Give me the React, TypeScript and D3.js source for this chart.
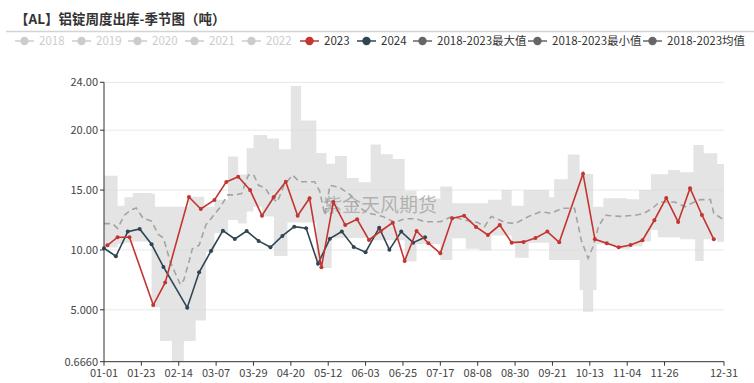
import React from 'react';
import * as d3 from 'd3';

// ---------- data ----------
const dates2023 = ['01-03','01-09','01-16','01-30','02-06','02-20','02-27','03-06','03-13','03-20','03-27','04-03','04-10','04-17','04-24','05-01','05-08','05-15','05-22','05-29','06-05','06-12','06-19','06-26','07-03','07-10','07-17','07-24','07-31','08-07','08-14','08-21','08-28','09-04','09-11','09-18','09-25','10-09','10-16','10-23','10-30','11-06','11-13','11-20','11-27','12-04','12-11','12-18','12-25'];
const values2023 = [10.39,11.06,11.06,5.40,7.27,14.42,13.42,14.17,15.68,16.12,15.0,12.86,14.42,15.70,12.86,14.32,8.55,14.01,12.08,12.56,10.83,11.58,12.28,9.08,11.58,10.56,9.72,12.64,12.86,11.92,11.25,12.08,10.61,10.67,11.0,11.53,10.64,16.37,10.89,10.56,10.22,10.41,10.81,12.48,14.34,12.34,15.15,12.92,10.89];

const dates2024 = ['01-01','01-08','01-15','01-22','01-29','02-05','02-19','02-26','03-04','03-11','03-18','03-25','04-01','04-08','04-15','04-22','04-29','05-06','05-13','05-20','05-27','06-03','06-11','06-17','06-24','07-01','07-08'];
const values2024 = [10.14,9.47,11.53,11.75,10.47,8.58,5.18,8.13,9.91,11.61,10.92,11.58,10.75,10.22,11.17,11.94,11.81,8.85,10.94,11.53,10.25,9.81,11.86,10.02,11.53,10.61,11.06];

const bandDates = ['01-01','01-09','01-13','01-18','01-29','01-31','02-03','02-10','02-17','02-20','02-24','02-29','03-01','03-06','03-14','03-20','03-25','03-29','04-03','04-06','04-10','04-13','04-18','04-20','04-26','05-05','05-08','05-11','05-14','05-16','05-23','05-30','06-06','06-12','06-19','06-26','07-03','07-17','07-24','08-01','08-09','08-14','08-16','08-22','08-28','08-30','09-04','09-07','09-19','09-22','09-27','09-30','10-07','10-09','10-15','10-17','10-21','10-23','10-30','11-04','11-06','11-11','11-13','11-18','11-22','11-28','12-05','12-13','12-14','12-19','12-27','12-31'];
const bandMax = [16.2,13.7,14.4,14.75,14.7,13.6,13.6,13.6,13.6,14.45,14.45,13.6,13.6,14.2,17.8,16.3,18.5,19.6,19.6,19.3,19.3,18.4,18.4,23.7,20.8,18.1,18.1,17.2,17.2,17.85,16.0,15.65,18.8,18.0,17.6,14.95,14.3,15.3,13.9,13.9,13.9,14.2,14.2,15.0,13.7,13.7,15.0,15.0,14.4,15.9,15.9,17.96,16.35,16.35,13.61,13.61,14.32,14.32,14.32,14.23,14.23,15.0,15.0,16.32,16.32,16.68,16.49,18.77,18.77,18.08,17.18,17.18];
const bandMin = [10.2,10.5,10.6,10.7,5.2,5.2,2.4,0.666,2.4,2.4,4.1,4.1,9.85,11.4,12.5,12.2,13.2,13.6,12.8,12.8,9.5,9.5,12.3,12.3,12.3,9.16,8.5,8.5,11.0,11.0,11.0,11.0,10.8,10.8,10.8,9.05,10.5,9.16,10.97,10.1,9.95,9.95,11.2,11.2,10.6,9.35,9.35,10.6,9.16,9.16,9.16,9.16,6.66,4.84,6.66,10.5,10.5,10.4,10.1,10.1,10.3,10.3,10.7,11.67,11.06,11.06,10.9,10.9,9.08,10.89,10.69,10.69];

const meanDates = ['01-01','01-06','01-09','01-13','01-17','01-20','01-24','01-29','02-02','02-05','02-09','02-15','02-17','02-20','02-22','02-26','03-01','03-05','03-09','03-14','03-18','03-22','03-26','03-29','04-01','04-05','04-08','04-12','04-16','04-21','04-25','05-04','05-07','05-10','05-13','05-19','05-25','05-30','06-04','06-13','06-20','06-26','07-03','07-08','07-17','07-24','07-31','08-08','08-12','08-16','08-24','08-30','09-07','09-14','09-20','09-27','10-04','10-08','10-12','10-15','10-18','10-22','10-31','11-09','11-14','11-19','11-23','12-02','12-08','12-12','12-17','12-23','12-25','12-31'];
const meanValues = [12.2,12.2,11.8,12.9,13.35,13.5,12.65,12.4,11.3,11.0,9.0,7.1,7.5,9.0,10.1,10.4,12.1,12.8,13.5,14.6,14.6,14.7,16.25,16.3,15.4,15.15,14.45,14.0,15.4,16.25,15.7,15.7,14.9,12.9,15.4,15.2,14.6,13.6,13.1,12.8,12.3,12.6,12.6,12.35,12.35,12.8,12.5,12.3,11.95,12.8,12.3,12.2,12.8,13.2,13.06,13.48,13.48,10.8,9.3,10.3,11.9,12.9,12.8,12.9,13.06,13.5,14.0,14.0,13.6,13.9,14.2,14.2,13.06,12.5];

const xTickLabels = ['01-01','01-23','02-14','03-07','03-29','04-20','05-12','06-03','06-25','07-17','08-08','08-30','09-21','10-13','11-04','11-26','12-31'];
const yTickValues = [0.666, 5, 10, 15, 20, 24];
const yDomain = [0.666, 24];

const legendNames = ['2018','2019','2020','2021','2022','2023','2024','2018-2023最大值','2018-2023最小值','2018-2023均值'];
const legendActive = [false,false,false,false,false,true,true,true,true,true];

const title = '【AL】铝锭周度出库-季节图（吨）';
const watermark = '紫金天风期货';

// ---------- styles ----------
const W = 754, H = 383;
const plot = { left: 104, right: 724, top: 82.3, bottom: 361.7 };
const C2023 = '#c23531';
const C2024 = '#2f4554';
const CStat = '#666666';
const FONT = '"Microsoft YaHei","Noto Sans CJK SC","Noto Sans",sans-serif';
const legendX = [15, 72, 128, 185, 242, 300, 357, 413, 528, 643];

function dayIndex(md: string): number {
  const [m, d] = md.split('-').map(Number);
  return d3.timeDay.count(new Date(2024, 0, 1), new Date(2024, m - 1, d));
}

export default function App() {
  const x = d3.scaleLinear().domain([0, 365]).range([plot.left, plot.right]);
  const y = d3.scaleLinear().domain(yDomain).range([plot.bottom, plot.top]);
  const fmt = d3.format('.4r');

  const band = bandDates.map((d, i) => ({ x: dayIndex(d), hi: bandMax[i], lo: bandMin[i] }));
  const areaGen = d3.area<{ x: number; hi: number; lo: number }>()
    .x(d => x(d.x)).y0(d => y(d.lo)).y1(d => y(d.hi)).curve(d3.curveStepAfter);

  const mean = meanDates.map((d, i) => ({ x: dayIndex(d), v: meanValues[i] }));
  const s2023 = dates2023.map((d, i) => ({ x: dayIndex(d), v: values2023[i] }));
  const s2024 = dates2024.map((d, i) => ({ x: dayIndex(d), v: values2024[i] }));
  const lineGen = d3.line<{ x: number; v: number }>().x(d => x(d.x)).y(d => y(d.v));

  const legendColor = (i: number) => {
    if (!legendActive[i]) return '#cccccc';
    if (legendNames[i] === '2023') return C2023;
    if (legendNames[i] === '2024') return C2024;
    return CStat;
  };

  return (
    <svg width={W} height={H} style={{ position: 'absolute', left: 0, top: 0, background: '#fff' }} fontFamily={FONT}>
      <rect x={0} y={0} width={W} height={H} fill="#fff" />
      {/* title */}
      <text x={15} y={24} fontSize={13.5} fontWeight="bold" fill="#333">{title}</text>
      <line x1={6} x2={W} y1={31.5} y2={31.5} stroke="#d4d4d4" strokeWidth={1.5} />

      {/* legend */}
      {legendNames.map((name, i) => {
        const lx = legendX[i];
        const col = legendColor(i);
        return (
          <g key={name}>
            <line x1={lx} x2={lx + 19} y1={41} y2={41} stroke={col} strokeWidth={1.5} />
            <circle cx={lx + 9.5} cy={41} r={4.2} fill={col} />
            <text x={lx + 24} y={41} dy="0.35em" fontSize={11.5} fill={legendActive[i] ? '#333' : '#cccccc'}>{name}</text>
          </g>
        );
      })}

      {/* grid */}
      {yTickValues.filter(v => v > yDomain[0]).map(v => (
        <line key={'g' + v} x1={plot.left} x2={plot.right} y1={y(v)} y2={y(v)} stroke="#e8e8e8" strokeWidth={1} />
      ))}

      {/* band */}
      <path d={areaGen(band) || ''} fill="#d6d6d6" fillOpacity={0.65} />

      {/* mean */}
      <path d={lineGen(mean) || ''} fill="none" stroke="#a3a3a3" strokeWidth={1.6} strokeDasharray="6,4" />

      {/* watermark */}
      <text x={380} y={205} textAnchor="middle" dy="0.35em" fontSize={19} fill="#a0a0a0" fillOpacity={0.75}>{watermark}</text>

      {/* 2024 */}
      <path d={lineGen(s2024) || ''} fill="none" stroke={C2024} strokeWidth={1.6} />
      {s2024.map((d, i) => <circle key={'b' + i} cx={x(d.x)} cy={y(d.v)} r={2} fill={C2024} />)}

      {/* 2023 */}
      <path d={lineGen(s2023) || ''} fill="none" stroke={C2023} strokeWidth={1.6} />
      {s2023.map((d, i) => <circle key={'r' + i} cx={x(d.x)} cy={y(d.v)} r={2} fill={C2023} />)}

      {/* y axis */}
      <line x1={plot.left} x2={plot.left} y1={plot.top} y2={plot.bottom} stroke="#333" strokeWidth={1} />
      {yTickValues.map(v => (
        <g key={'y' + v}>
          <line x1={plot.left - 4} x2={plot.left} y1={y(v)} y2={y(v)} stroke="#333" />
          <text x={plot.left - 6} y={y(v)} dy="0.35em" textAnchor="end" fontSize={11} fill="#444">{fmt(v)}</text>
        </g>
      ))}

      {/* x axis */}
      <line x1={plot.left} x2={plot.right} y1={plot.bottom} y2={plot.bottom} stroke="#333" strokeWidth={1} />
      {xTickLabels.map(t => {
        const px = x(dayIndex(t));
        return (
          <g key={'x' + t}>
            <line x1={px} x2={px} y1={plot.bottom} y2={plot.bottom + 4} stroke="#333" />
            <text x={px} y={plot.bottom + 11} dy="0.35em" textAnchor="middle" fontSize={11} fill="#444">{t}</text>
          </g>
        );
      })}
    </svg>
  );
}
